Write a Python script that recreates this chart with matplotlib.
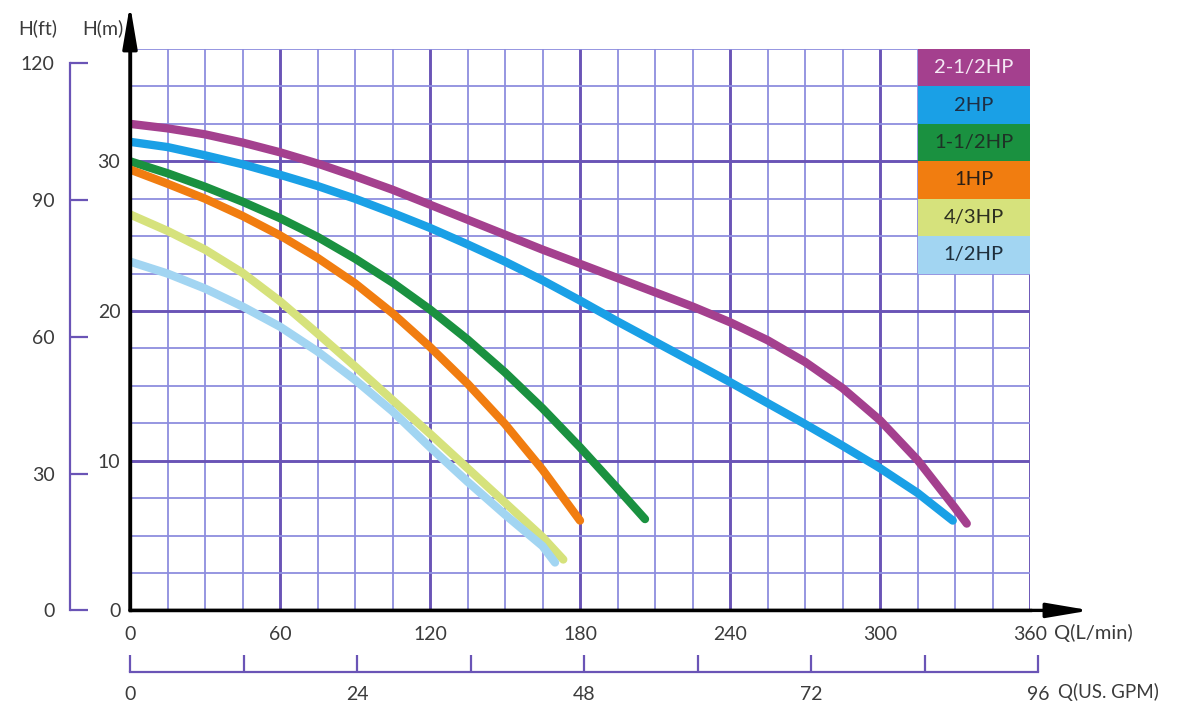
import matplotlib
matplotlib.use("Agg")
import matplotlib.pyplot as plt
from matplotlib.patches import Rectangle
import numpy as np

plt.rcParams['font.family'] = ['Lato', 'DejaVu Sans']

# ---------------- data ----------------
series_names = ["2-1/2HP", "2HP", "1-1/2HP", "1HP", "4/3HP", "1/2HP"]
series_colors = ["#a4408e", "#1aa0e6", "#1a9140", "#f17d10", "#d6e27c", "#a2d5f2"]
legend_text_colors = ["#f4e8f4", "#1e2f45", "#1e3326", "#2d2016", "#2e3020", "#1f2f3c"]

q_2_5hp = [0, 15, 30, 45, 60, 75, 90, 105, 120, 135, 150, 165, 180, 195, 210, 225, 240, 255, 270, 285, 300, 315, 330, 334.7]
h_2_5hp = [32.5, 32.2, 31.8, 31.25, 30.6, 29.85, 29.0, 28.1, 27.1, 26.1, 25.1, 24.1, 23.15, 22.2, 21.25, 20.3, 19.25, 18.05, 16.6, 14.85, 12.7, 10.05, 6.85, 5.8]

q_2hp = [0, 15, 30, 45, 60, 75, 90, 105, 120, 135, 150, 165, 180, 195, 210, 225, 240, 255, 270, 285, 300, 315, 329.1]
h_2hp = [31.3, 30.95, 30.4, 29.8, 29.1, 28.35, 27.5, 26.55, 25.55, 24.45, 23.3, 22.05, 20.7, 19.3, 17.95, 16.6, 15.25, 13.85, 12.45, 11.0, 9.5, 7.85, 6.0]

q_1_5hp = [0, 15, 30, 45, 60, 75, 90, 105, 120, 135, 150, 165, 180, 195, 206]
h_1_5hp = [30.0, 29.2, 28.3, 27.3, 26.2, 24.95, 23.5, 21.9, 20.1, 18.1, 15.9, 13.5, 10.9, 8.15, 6.1]

q_1hp = [0, 15, 30, 45, 60, 75, 90, 105, 120, 135, 150, 165, 180]
h_1hp = [29.45, 28.5, 27.5, 26.35, 25.05, 23.55, 21.85, 19.85, 17.6, 15.15, 12.45, 9.4, 6.0]

q_4_3hp = [0, 15, 30, 45, 60, 75, 90, 105, 120, 135, 150, 165, 173.3]
h_4_3hp = [26.45, 25.35, 24.1, 22.55, 20.65, 18.5, 16.3, 14.05, 11.8, 9.5, 7.2, 4.9, 3.4]

q_half_hp = [0, 15, 30, 45, 60, 75, 90, 105, 120, 135, 150, 165, 170]
h_half_hp = [23.3, 22.5, 21.5, 20.3, 18.95, 17.3, 15.4, 13.3, 10.9, 8.6, 6.4, 4.3, 3.2]

q_lists = [q_2_5hp, q_2hp, q_1_5hp, q_1hp, q_4_3hp, q_half_hp]
h_lists = [h_2_5hp, h_2hp, h_1_5hp, h_1hp, h_4_3hp, h_half_hp]

q_major_ticks = [0, 60, 120, 180, 240, 300, 360]
h_major_ticks = [0, 10, 20, 30]
ft_ticks = [0, 30, 60, 90, 120]
gpm_major_ticks = [0, 24, 48, 72, 96]
gpm_minor_ticks = [12, 36, 60, 84]

Q_MAX = 360
H_MAX = 37.5
M_PER_FT = 0.3048
LPM_PER_GPM = 3.785
GPM_MAX = 96

# ---------------- figure ----------------
W, H = 1180, 718
fig = plt.figure(figsize=(W / 100, H / 100), dpi=100)
ax_left, ax_right = 130, 1030
ax_bottom_px, ax_top_px = 610.4, 49
px_per_q = (ax_right - ax_left) / Q_MAX
ax = fig.add_axes([ax_left / W, 1 - ax_bottom_px / H,
                   (ax_right - ax_left) / W, (ax_bottom_px - ax_top_px) / H])
ax.set_xlim(0, Q_MAX)
ax.set_ylim(0, H_MAX)

major_grid = "#6a54b6"
minor_grid = "#8d8ede"
tick_col = "#3b3b3b"

ax.set_xticks(q_major_ticks)
ax.set_xticks(np.arange(0, Q_MAX + 0.1, 15), minor=True)
ax.set_yticks(h_major_ticks)
ax.set_yticks(np.arange(0, H_MAX + 0.1, 2.5), minor=True)
ax.grid(True, which='major', color=major_grid, lw=2.1, zorder=0)
ax.grid(True, which='minor', color=minor_grid, lw=1.3, zorder=0)
ax.set_axisbelow(True)
ax.tick_params(which='both', length=0)
ax.tick_params(axis='x', which='major', pad=11, labelsize=14, labelcolor=tick_col)
ax.tick_params(axis='y', which='major', pad=7, labelsize=14, labelcolor=tick_col)
for s in ['top', 'right']:
    ax.spines[s].set_visible(False)
for s in ['left', 'bottom']:
    ax.spines[s].set_color('black')
    ax.spines[s].set_linewidth(2.4)
    ax.spines[s].set_zorder(5)

# curves
for q, h, c in zip(q_lists, h_lists, series_colors):
    ax.plot(q, h, color=c, lw=6, solid_capstyle='round', solid_joinstyle='round', zorder=3)

# legend boxes
row_h = 2.5
for i, (name, c, tc) in enumerate(zip(series_names, series_colors, legend_text_colors)):
    y0 = H_MAX - row_h * (i + 1)
    ax.add_patch(Rectangle((315, y0), 45, row_h, facecolor=c, edgecolor='none', zorder=4))
    ax.text(337.5, y0 + row_h / 2, name, ha='center', va='center', fontsize=14.5,
            color=tc, zorder=5)

# arrows
arrow_kw = dict(arrowstyle='-|>,head_length=1.3,head_width=0.22',
                lw=2.4, color='black', mutation_scale=20, shrinkA=0, shrinkB=0)
ax.annotate('', xy=(0, 1.079), xytext=(0, 0), xycoords='axes fraction',
            arrowprops=arrow_kw, zorder=6)
ax.annotate('', xy=(1.067, 0), xytext=(0, 0), xycoords='axes fraction',
            arrowprops=arrow_kw, zorder=6)

# feet axis
axis_col = "#6a54b6"
secy = ax.secondary_yaxis((70 - 130) / 900, functions=(lambda m: m / M_PER_FT, lambda f: f * M_PER_FT))
secy.set_yticks(ft_ticks)
secy.tick_params(direction='in', length=13, width=1.6, color=axis_col, pad=11,
                 labelsize=14, labelcolor=tick_col)
secy.spines['left'].set_color(axis_col)
secy.spines['left'].set_linewidth(1.6)
secy.spines['left'].set_bounds(0, 120)

# GPM axis (own axes so that 96 GPM, just past 360 L/min, is shown)
gpm_y = 672
gpm_right = ax_left + GPM_MAX * LPM_PER_GPM * px_per_q
axg = fig.add_axes([ax_left / W, 1 - gpm_y / H, (gpm_right - ax_left) / W, 0.001])
axg.set_xlim(0, GPM_MAX)
axg.set_ylim(0, 1)
axg.patch.set_visible(False)
for s in ['top', 'right', 'left']:
    axg.spines[s].set_visible(False)
axg.spines['bottom'].set_color(axis_col)
axg.spines['bottom'].set_linewidth(1.6)
axg.set_yticks([])
axg.set_xticks(gpm_major_ticks)
axg.set_xticks(gpm_minor_ticks, minor=True)
axg.tick_params(axis='x', which='both', direction='in', length=12, width=1.6, color=axis_col)
axg.tick_params(axis='x', which='major', pad=10, labelsize=14, labelcolor=tick_col)
for t in axg.xaxis.get_major_ticks() + axg.xaxis.get_minor_ticks():
    t.tick1line.set_clip_on(False)

# axis titles
fig.text(18 / W, 1 - 28 / H, "H(ft)", fontsize=14, color=tick_col, ha='left', va='center')
fig.text(82 / W, 1 - 28 / H, "H(m)", fontsize=14, color=tick_col, ha='left', va='center')
fig.text(1054 / W, 1 - 633 / H, "Q(L/min)", fontsize=14.5, color=tick_col, ha='left', va='center')
fig.text(1058 / W, 1 - 692 / H, "Q(US. GPM)", fontsize=13.5, color=tick_col, ha='left', va='center')

fig.savefig("out.png", dpi=100, facecolor='white')
